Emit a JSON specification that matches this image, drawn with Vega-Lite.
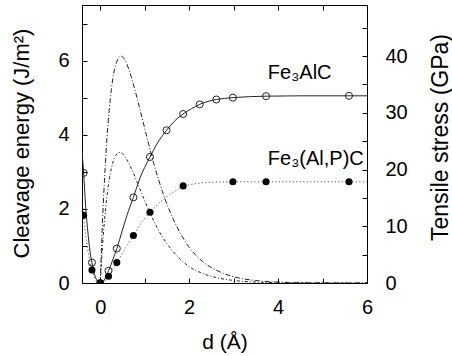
{
  "$schema": "https://vega.github.io/schema/vega-lite/v6.json",
  "width": 285,
  "height": 278,
  "autosize": {"type": "none"},
  "padding": {"left": 82, "top": 5, "right": 85, "bottom": 73},
  "background": "white",
  "config": {
    "view": {"stroke": "black", "strokeWidth": 1},
    "axis": {
      "grid": false,
      "domainColor": "black",
      "tickColor": "black",
      "tickSize": -5,
      "labelColor": "black",
      "titleColor": "black",
      "labelFont": "Liberation Sans",
      "titleFont": "Liberation Sans",
      "labelFontSize": 20,
      "titleFontSize": 21,
      "titleFontWeight": "normal",
      "labelFlush": false,
      "labelOverlap": false,
      "domainWidth": 1,
      "tickWidth": 1
    }
  },
  "datasets": {
    "fe3alc_pts": [
      {"d": -0.373, "E": 2.97}, {"d": -0.186, "E": 0.55}, {"d": 0, "E": 0}, {"d": 0.186, "E": 0.33},
      {"d": 0.373, "E": 0.93}, {"d": 0.746, "E": 2.31}, {"d": 1.119, "E": 3.4}, {"d": 1.492, "E": 4.12},
      {"d": 1.865, "E": 4.56}, {"d": 2.238, "E": 4.82}, {"d": 2.611, "E": 4.95}, {"d": 2.984, "E": 5.0},
      {"d": 3.73, "E": 5.04}, {"d": 5.595, "E": 5.05}
    ],
    "fe3alpc_pts": [
      {"d": -0.373, "E": 1.83}, {"d": -0.186, "E": 0.35}, {"d": 0, "E": 0}, {"d": 0.186, "E": 0.18},
      {"d": 0.373, "E": 0.55}, {"d": 0.746, "E": 1.28}, {"d": 1.119, "E": 1.91}, {"d": 1.865, "E": 2.62},
      {"d": 2.984, "E": 2.73}, {"d": 3.73, "E": 2.73}, {"d": 5.595, "E": 2.73}
    ],
    "fe3alc_line": [
      {"d": -0.41, "E": 3.55}, {"d": -0.373, "E": 2.97}, {"d": -0.33, "E": 2.1}, {"d": -0.28, "E": 1.4},
      {"d": -0.23, "E": 0.86}, {"d": -0.186, "E": 0.55}, {"d": -0.12, "E": 0.2}, {"d": -0.06, "E": 0.045},
      {"d": 0, "E": 0}, {"d": 0.06, "E": 0.04}, {"d": 0.12, "E": 0.14}, {"d": 0.186, "E": 0.33},
      {"d": 0.28, "E": 0.62}, {"d": 0.373, "E": 0.93}, {"d": 0.5, "E": 1.43}, {"d": 0.6, "E": 1.82},
      {"d": 0.746, "E": 2.31}, {"d": 0.9, "E": 2.85}, {"d": 1.0, "E": 3.12}, {"d": 1.119, "E": 3.4},
      {"d": 1.3, "E": 3.8}, {"d": 1.492, "E": 4.12}, {"d": 1.68, "E": 4.38}, {"d": 1.865, "E": 4.56},
      {"d": 2.05, "E": 4.7}, {"d": 2.238, "E": 4.82}, {"d": 2.611, "E": 4.95}, {"d": 2.984, "E": 5.0},
      {"d": 3.73, "E": 5.04}, {"d": 4.5, "E": 5.05}, {"d": 5.595, "E": 5.05}, {"d": 6.0, "E": 5.05}
    ],
    "fe3alpc_line": [
      {"d": -0.41, "E": 2.3}, {"d": -0.373, "E": 1.83}, {"d": -0.33, "E": 1.33}, {"d": -0.28, "E": 0.9},
      {"d": -0.23, "E": 0.56}, {"d": -0.186, "E": 0.35}, {"d": -0.12, "E": 0.12}, {"d": -0.06, "E": 0.03},
      {"d": 0, "E": 0}, {"d": 0.06, "E": 0.02}, {"d": 0.12, "E": 0.08}, {"d": 0.186, "E": 0.18},
      {"d": 0.28, "E": 0.36}, {"d": 0.373, "E": 0.55}, {"d": 0.5, "E": 0.8}, {"d": 0.6, "E": 1.0},
      {"d": 0.746, "E": 1.28}, {"d": 0.9, "E": 1.58}, {"d": 1.0, "E": 1.75}, {"d": 1.119, "E": 1.91},
      {"d": 1.3, "E": 2.13}, {"d": 1.5, "E": 2.33}, {"d": 1.68, "E": 2.48}, {"d": 1.865, "E": 2.6},
      {"d": 2.1, "E": 2.67}, {"d": 2.4, "E": 2.71}, {"d": 2.984, "E": 2.73}, {"d": 3.73, "E": 2.73},
      {"d": 5.595, "E": 2.73}, {"d": 6.0, "E": 2.73}
    ],
    "fe3alc_S": [
      {"d": 0, "S": 0}, {"d": 0.05, "S": 10.5}, {"d": 0.1, "S": 18.8}, {"d": 0.15, "S": 25.4},
      {"d": 0.2, "S": 30.4}, {"d": 0.25, "S": 34.1}, {"d": 0.3, "S": 36.8}, {"d": 0.35, "S": 38.5},
      {"d": 0.4, "S": 39.5}, {"d": 0.465, "S": 40.0}, {"d": 0.55, "S": 39.4}, {"d": 0.65, "S": 37.5},
      {"d": 0.75, "S": 34.9}, {"d": 0.9, "S": 30.4}, {"d": 1.05, "S": 25.7}, {"d": 1.2, "S": 21.2},
      {"d": 1.4, "S": 16.1}, {"d": 1.6, "S": 12.0}, {"d": 1.8, "S": 8.8}, {"d": 2.0, "S": 6.3},
      {"d": 2.3, "S": 3.8}, {"d": 2.6, "S": 2.3}, {"d": 3.0, "S": 1.1}, {"d": 3.5, "S": 0.44},
      {"d": 4.0, "S": 0.17}, {"d": 4.5, "S": 0.06}, {"d": 5.0, "S": 0.02}, {"d": 6.0, "S": 0}
    ],
    "fe3alpc_S": [
      {"d": 0, "S": 0}, {"d": 0.05, "S": 6.4}, {"d": 0.1, "S": 11.4}, {"d": 0.15, "S": 15.2},
      {"d": 0.2, "S": 18.1}, {"d": 0.25, "S": 20.2}, {"d": 0.3, "S": 21.6}, {"d": 0.35, "S": 22.5},
      {"d": 0.437, "S": 23.0}, {"d": 0.5, "S": 22.8}, {"d": 0.6, "S": 21.7}, {"d": 0.7, "S": 20.2},
      {"d": 0.85, "S": 17.4}, {"d": 1.0, "S": 14.5}, {"d": 1.2, "S": 11.0}, {"d": 1.4, "S": 8.1},
      {"d": 1.6, "S": 5.9}, {"d": 1.8, "S": 4.2}, {"d": 2.0, "S": 2.9}, {"d": 2.3, "S": 1.7},
      {"d": 2.6, "S": 0.97}, {"d": 3.0, "S": 0.45}, {"d": 3.5, "S": 0.17}, {"d": 4.0, "S": 0.06},
      {"d": 5.0, "S": 0.01}, {"d": 6.0, "S": 0}
    ],
    "labels": [
      {"d": 3.77, "E": 5.5, "label": "Fe₃AlC"},
      {"d": 3.77, "E": 3.18, "label": "Fe₃(Al,P)C"}
    ]
  },
  "layer": [
    {
      "encoding": {
        "x": {
          "field": "d", "type": "quantitative",
          "scale": {"domain": [-0.41, 6], "nice": false, "zero": false},
          "axis": {
            "orient": "bottom", "values": [0, 1, 2, 3, 4, 5, 6],
            "labelExpr": "datum.value % 2 === 0 ? datum.label : ''",
            "labelPadding": 19,
            "title": "d (Å)", "titleX": 142.5, "titleY": 65,
            "titleBaseline": "alphabetic", "titleAlign": "center"
          }
        },
        "y": {
          "field": "E", "type": "quantitative",
          "scale": {"domain": [0, 7.5], "nice": false, "zero": false},
          "axis": {
            "orient": "left", "values": [0, 1, 2, 3, 4, 5, 6, 7],
            "labelExpr": "datum.value % 2 === 0 ? datum.label : ''",
            "labelPadding": 18,
            "title": "Cleavage energy (J/m²)", "titleAngle": -90, "titleFontSize": 22,
            "titleX": -61, "titleY": 138, "titleBaseline": "middle", "titleAlign": "center"
          }
        }
      },
      "layer": [
        {"data": {"name": "fe3alc_line"}, "mark": {"type": "line", "interpolate": "monotone", "stroke": "#222", "strokeWidth": 1, "clip": true}},
        {"data": {"name": "fe3alpc_line"}, "mark": {"type": "line", "interpolate": "monotone", "stroke": "#333", "strokeWidth": 1, "strokeDash": [1, 2.5], "clip": true}},
        {"data": {"name": "fe3alc_pts"}, "mark": {"type": "point", "shape": "circle", "filled": false, "stroke": "#222", "strokeWidth": 1, "size": 50, "opacity": 1, "clip": true}},
        {"data": {"name": "fe3alpc_pts"}, "mark": {"type": "circle", "color": "black", "opacity": 1, "size": 50, "clip": true}},
        {"data": {"name": "labels"}, "mark": {"type": "text", "align": "left", "baseline": "alphabetic", "fontSize": 20, "font": "Liberation Sans", "color": "black"}, "encoding": {"text": {"field": "label"}}}
      ]
    },
    {
      "encoding": {
        "x": {
          "field": "d", "type": "quantitative",
          "scale": {"domain": [-0.41, 6], "nice": false, "zero": false},
          "axis": {"orient": "top", "values": [0, 1, 2, 3, 4, 5, 6], "labels": false, "title": null}
        },
        "y": {
          "field": "S", "type": "quantitative",
          "scale": {"domain": [0, 49], "nice": false, "zero": false},
          "axis": {
            "orient": "right", "values": [0, 5, 10, 15, 20, 25, 30, 35, 40, 45],
            "labelExpr": "datum.value % 10 === 0 ? datum.label : ''",
            "labelPadding": 23,
            "title": "Tensile stress (GPa)", "titleAngle": -90, "titleFontSize": 23,
            "titleX": 73, "titleY": 132, "titleBaseline": "middle", "titleAlign": "center"
          }
        }
      },
      "layer": [
        {"data": {"name": "fe3alc_S"}, "mark": {"type": "line", "interpolate": "monotone", "stroke": "#222", "strokeWidth": 1, "strokeDash": [5, 2, 1, 2], "clip": true}},
        {"data": {"name": "fe3alpc_S"}, "mark": {"type": "line", "interpolate": "monotone", "stroke": "#222", "strokeWidth": 1, "strokeDash": [3, 2, 1, 2], "clip": true}}
      ]
    }
  ],
  "resolve": {"scale": {"y": "independent"}, "axis": {"x": "independent"}}
}
